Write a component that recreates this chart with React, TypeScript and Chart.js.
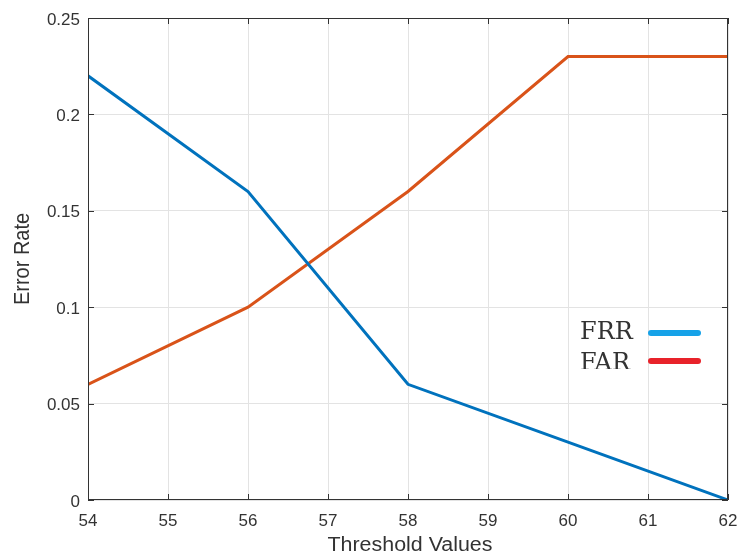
import React, { useEffect, useRef } from "react";
import { Chart, registerables } from "chart.js";

Chart.register(...registerables);

const thresholds = [54, 56, 58, 60, 62];
const frrValues = [0.22, 0.16, 0.06, 0.03, 0.0];
const farValues = [0.06, 0.1, 0.16, 0.23, 0.23];
const legendLabels = ["FRR", "FAR"];
const xTitle = "Threshold Values";
const yTitle = "Error Rate";

const frameColor = "#333333";
const textColor = "#333333";

const framePlugin = {
  id: "framePlugin",
  afterDatasetsDraw(chart: any) {
    const { ctx, chartArea, scales } = chart;
    const { left, right, top, bottom } = chartArea;
    const tl = 6;
    ctx.save();
    ctx.strokeStyle = frameColor;
    ctx.lineWidth = 1;
    ctx.beginPath();
    ctx.rect(left + 0.5, top + 0.5, right - left - 1, bottom - top - 1);
    ctx.stroke();
    ctx.beginPath();
    scales.x.ticks.forEach((t: any) => {
      const px = Math.round(scales.x.getPixelForValue(t.value)) + 0.5;
      ctx.moveTo(px, bottom);
      ctx.lineTo(px, bottom - tl);
      ctx.moveTo(px, top);
      ctx.lineTo(px, top + tl);
    });
    scales.y.ticks.forEach((t: any) => {
      const py = Math.round(scales.y.getPixelForValue(t.value)) + 0.5;
      ctx.moveTo(left, py);
      ctx.lineTo(left + tl, py);
      ctx.moveTo(right, py);
      ctx.lineTo(right - tl, py);
    });
    ctx.stroke();
    ctx.restore();
  },
  afterDraw(chart: any) {
    const { ctx, chartArea } = chart;
    ctx.save();
    ctx.fillStyle = textColor;
    ctx.font = "20px 'Liberation Sans', Arial, sans-serif";
    // x title
    ctx.save();
    ctx.translate((chartArea.left + chartArea.right) / 2 + 2, 551);
    ctx.scale(1.07, 1);
    ctx.textAlign = "center";
    ctx.textBaseline = "alphabetic";
    ctx.fillText(xTitle, 0, 0);
    ctx.restore();
    // y title
    ctx.save();
    ctx.translate(21, (chartArea.top + chartArea.bottom) / 2);
    ctx.rotate(-Math.PI / 2);
    ctx.scale(1, 1.12);
    ctx.textAlign = "center";
    ctx.textBaseline = "alphabetic";
    ctx.fillText(yTitle, 0, 7);
    ctx.restore();

    // legend
    ctx.save();
    ctx.beginPath();
    ctx.rect(560, 310, 170, 59);
    ctx.clip();
    ctx.font = "24px 'DejaVu Serif', serif";
    ctx.fillStyle = "#333333";
    ctx.textAlign = "left";
    ctx.textBaseline = "alphabetic";
    ctx.fillText(legendLabels[0], 580, 339);
    ctx.fillText(legendLabels[1], 580, 370);
    ctx.lineCap = "round";
    ctx.lineWidth = 6;
    ctx.strokeStyle = "#16a2e8";
    ctx.beginPath();
    ctx.moveTo(651, 333);
    ctx.lineTo(698, 333);
    ctx.stroke();
    ctx.strokeStyle = "#e8222a";
    ctx.beginPath();
    ctx.moveTo(651, 361);
    ctx.lineTo(698, 361);
    ctx.stroke();
    ctx.restore();
    ctx.restore();
  },
};

export default function App() {
  const canvasRef = useRef<HTMLCanvasElement | null>(null);

  useEffect(() => {
    if (!canvasRef.current) return;
    const chart = new Chart(canvasRef.current, {
      type: "line",
      data: {
        datasets: [
          {
            label: legendLabels[0],
            data: thresholds.map((x, i) => ({ x, y: frrValues[i] })),
            borderColor: "#0072BD",
            backgroundColor: "#0072BD",
            borderWidth: 3,
            pointRadius: 0,
            tension: 0,
            fill: false,
          },
          {
            label: legendLabels[1],
            data: thresholds.map((x, i) => ({ x, y: farValues[i] })),
            borderColor: "#D95319",
            backgroundColor: "#D95319",
            borderWidth: 3,
            pointRadius: 0,
            tension: 0,
            fill: false,
          },
        ],
      },
      options: {
        responsive: false,
        animation: false,
        layout: { padding: { top: 18, right: 11, left: 0, bottom: 0 } },
        plugins: {
          legend: { display: false },
          tooltip: { enabled: false },
          title: { display: false },
        },
        scales: {
          x: {
            type: "linear",
            min: 54,
            max: 62,
            afterFit: (s: any) => {
              s.height = 57;
              s.paddingRight = 0;
              s.paddingLeft = 0;
            },
            ticks: {
              stepSize: 1,
              padding: 11,
              color: textColor,
              font: { family: "'Liberation Sans', Arial, sans-serif", size: 17 },
              maxRotation: 0,
            },
            grid: { color: "#e3e3e3", lineWidth: 1, drawTicks: false },
            border: { display: false },
          },
          y: {
            type: "linear",
            min: 0,
            max: 0.25,
            afterFit: (s: any) => {
              s.width = 88;
              s.paddingTop = 0;
              s.paddingBottom = 0;
            },
            ticks: {
              stepSize: 0.05,
              padding: 8,
              labelOffset: 2,
              color: textColor,
              font: { family: "'Liberation Sans', Arial, sans-serif", size: 17 },
              callback: (v: any) => String(Number(Number(v).toFixed(2))),
            },
            grid: { color: "#e3e3e3", lineWidth: 1, drawTicks: false },
            border: { display: false },
          },
        },
      },
      plugins: [framePlugin],
    });
    return () => chart.destroy();
  }, []);

  return (
    <div style={{ position: "absolute", left: 0, top: 0, width: 739, height: 557, background: "#fff" }}>
      <canvas ref={canvasRef} width={739} height={557} />
    </div>
  );
}
